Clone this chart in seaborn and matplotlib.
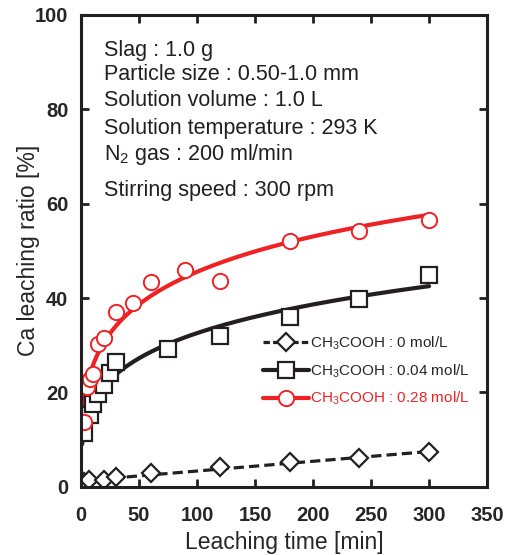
import numpy as np
import pandas as pd
import matplotlib
matplotlib.use("Agg")
import matplotlib.pyplot as plt
from matplotlib.lines import Line2D
import seaborn as sns

# ---- data ----
t_0 = [3, 7, 20, 30, 60, 120, 180, 240, 300]
y_0 = [0.9, 1.4, 1.4, 2.0, 2.9, 4.1, 5.2, 6.0, 7.3]

t_004 = [3, 8, 10, 15, 20, 25, 30, 75, 120, 180, 240, 300]
y_004 = [11.4, 15.3, 17.6, 19.7, 21.5, 24.1, 26.5, 29.3, 32.0, 36.0, 39.9, 44.8]

t_028 = [3, 5, 8, 10, 15, 20, 30, 45, 60, 90, 120, 180, 240, 300]
y_028 = [13.8, 21.1, 22.9, 23.9, 30.3, 31.6, 37.1, 39.0, 43.5, 46.0, 43.6, 52.1, 54.3, 56.6]

labels = ["CH$_3$COOH : 0 mol/L", "CH$_3$COOH : 0.04 mol/L", "CH$_3$COOH : 0.28 mol/L"]
conditions = ["Slag : 1.0 g", "Particle size : 0.50-1.0 mm", "Solution volume : 1.0 L",
              "Solution temperature : 293 K", "N$_2$ gas : 200 ml/min", "Stirring speed : 300 rpm"]
x_ticks = [0, 50, 100, 150, 200, 250, 300, 350]
y_ticks = [0, 20, 40, 60, 80, 100]

sns.set_theme(style="ticks")
plt.rcParams["font.family"] = ["Liberation Sans", "DejaVu Sans"]
plt.rcParams["mathtext.fontset"] = "custom"
plt.rcParams["mathtext.rm"] = "Liberation Sans"
plt.rcParams["mathtext.default"] = "regular"

fig = plt.figure(figsize=(5.09, 5.55), dpi=100)
ax = fig.add_axes([0.159, 0.123, 0.798, 0.850])

RED = "#ee2224"
BLK = "#231f20"

# Avrami-type fit  X = 100 (1 - exp(-k t^n)), least squares by grid search
tt = np.linspace(1, 300, 300)
def avrami_fit(t, y):
    t = np.asarray(t, float)[None, None, :]
    y = np.asarray(y, float)[None, None, :]
    ns = np.arange(0.10, 0.70, 0.0025)[:, None, None]
    ks = np.arange(0.005, 0.50, 0.0005)[None, :, None]
    pred = 100 * (1 - np.exp(-ks * t ** ns))
    sse = ((pred - y) ** 2).sum(axis=2)
    i, j = np.unravel_index(np.argmin(sse), sse.shape)
    n, k = ns[i, 0, 0], ks[0, j, 0]
    return 100 * (1 - np.exp(-k * tt ** n))

lin = np.polyfit(t_0, y_0, 1)
tl = np.linspace(0, 300, 50)
sns.lineplot(x=tl, y=np.polyval(lin, tl), ax=ax, color=BLK, lw=2.3, ls=(0, (3.2, 1.6)))
sns.lineplot(x=tt, y=avrami_fit(t_004, y_004), ax=ax, color=BLK, lw=3.0)
sns.lineplot(x=tt, y=avrami_fit(t_028, y_028), ax=ax, color=RED, lw=3.0)

ax.plot(t_0, y_0, ls="none", marker="D", ms=9, mfc="white", mec=BLK, mew=1.6)
ax.plot(t_004, y_004, ls="none", marker="s", ms=12, mfc="white", mec=BLK, mew=1.6)
ax.plot(t_028, y_028, ls="none", marker="o", ms=11, mfc="white", mec=RED, mew=1.4)

ax.set_xlim(0, 350)
ax.set_ylim(0, 100)
ax.set_xticks(x_ticks)
ax.set_yticks(y_ticks)
ax.set_xticklabels([str(v) for v in x_ticks], fontweight="bold", fontsize=14.5)
ax.set_yticklabels([str(v) for v in y_ticks], fontweight="bold", fontsize=14.5)
ax.tick_params(direction="in", length=6, width=2, top=True, right=True, color=BLK)
ax.tick_params(axis="x", pad=14)
ax.tick_params(axis="y", pad=9)
for s in ax.spines.values():
    s.set_linewidth(2.2)
    s.set_color(BLK)

ax.set_xlabel("Leaching time [min]", fontsize=16.5)
ax.set_ylabel("Ca leaching ratio [%]", fontsize=16.5)
ax.xaxis.set_label_coords(0.5, -0.094)
ax.yaxis.set_label_coords(-0.101, 0.5)

ys = [0.925, 0.873, 0.818, 0.760, 0.705, 0.627]
for s, yy in zip(conditions, ys):
    ax.text(0.058, yy, s, transform=ax.transAxes, fontsize=15.5, va="center", ha="left", color=BLK)

handles = [
    Line2D([], [], color=BLK, lw=2.3, ls=(0, (2, 1)), marker="D", ms=9, mfc="white", mec=BLK, mew=1.6),
    Line2D([], [], color=BLK, lw=3.0, marker="s", ms=12, mfc="white", mec=BLK, mew=1.6),
    Line2D([], [], color=RED, lw=3.0, marker="o", ms=11, mfc="white", mec=RED, mew=1.4),
]
leg = ax.legend(handles, labels, loc="upper left", bbox_to_anchor=(0.43, 0.339), frameon=False,
                fontsize=11, handlelength=3.0, handletextpad=0.05, labelspacing=0.68, borderpad=0)
leg.get_texts()[2].set_color(RED)

fig.savefig("out.png", dpi=100)
